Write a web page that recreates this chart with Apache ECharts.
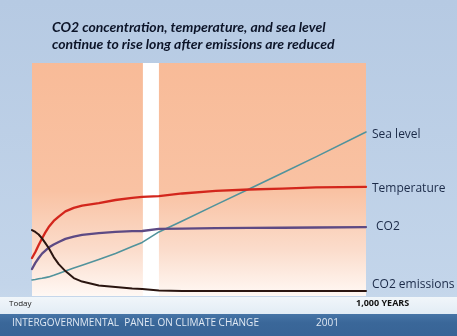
<!DOCTYPE html>
<html><head><meta charset="utf-8">
<script src="https://cdn.jsdelivr.net/npm/echarts@6/dist/echarts.min.js"></script>
<style>html,body{margin:0;padding:0;}#c{width:457px;height:336px;}</style>
</head><body><div id="c"></div>
<script>
// Data (arbitrary relative units, years after today)
const years = [0, 10, 20, 30, 40, 50, 65, 80, 100, 125, 150, 200, 250, 300, 330, 380, 450, 550, 650, 750, 850, 1000];
const seaLevel = [6.9, 7.1, 7.4, 7.6, 7.9, 8.2, 8.9, 9.7, 10.7, 12.0, 13.2, 15.7, 18.2, 21.2, 23.0, 27.5, 32.2, 39.1, 45.9, 52.8, 59.7, 70.4];
const temperature = [16.3, 18.9, 21.9, 24.7, 27.3, 29.6, 32.2, 34.1, 36.3, 37.8, 38.8, 39.9, 41.2, 42.1, 42.5, 42.9, 44.0, 45.1, 45.7, 46.1, 46.6, 46.8];
const co2 = [11.6, 14.2, 16.3, 18.2, 19.5, 20.8, 22.1, 23.2, 24.5, 25.5, 26.2, 27.0, 27.5, 27.8, 27.9, 28.8, 28.9, 29.1, 29.2, 29.3, 29.4, 29.6];
const emissions = [28.3, 27.5, 26.4, 24.7, 22.7, 20.6, 16.7, 13.7, 10.7, 7.7, 6.2, 4.5, 3.9, 3.2, 3.0, 2.4, 2.1, 2.1, 2.1, 2.1, 2.1, 2.1];
const seriesNames = ['Sea level', 'Temperature', 'CO2', 'CO2 emissions'];
const breakYears = [332, 380];
const titleLines = ['CO2 concentration, temperature, and sea level', 'continue to rise long after emissions are reduced'];
const axisStartLabel = 'Today';
const axisEndLabel = '1,000 YEARS';
const footerText = 'INTERGOVERNMENTAL  PANEL ON CLIMATE CHANGE';
const footerYear = '2001';

const pairs = arr => years.map((y, i) => [y, arr[i]]);
const chart = echarts.init(document.getElementById('c'));
const labelColor = '#1b2a48';
function lineSeries(name, data, color, width, offset) {
  return {
    name, type: 'line', data: pairs(data), smooth: false, symbol: 'none', z: 3,
    lineStyle: { color, width, join: 'round', cap: 'round' },
    endLabel: { show: true, formatter: name, color: labelColor, fontSize: 12,
      fontFamily: 'Open Sans', distance: offset[0], offset: [0, offset[1]] }
  };
}
chart.setOption({
  animation: false,
  backgroundColor: { type: 'linear', x: 0, y: 0, x2: 0, y2: 1, colorStops: [
    { offset: 0, color: '#b6cae3' }, { offset: 0.85, color: '#c3d5ea' }, { offset: 1, color: '#cfdeee' }] },
  title: {
    text: titleLines.join('\n'), left: 47, top: 14,
    textStyle: { fontSize: 14, fontWeight: 'bold', fontStyle: 'italic', color: '#0c1428',
      fontFamily: 'Lato', lineHeight: 17 }
  },
  graphic: [
    { type: 'rect', z: -10, shape: { x: 0, y: 297, width: 457, height: 17 },
      style: { fill: { type: 'linear', x: 0, y: 0, x2: 0, y2: 1, colorStops: [
        { offset: 0, color: '#f1f6fa' }, { offset: 1, color: '#e2ecf5' }] } } },
    { type: 'rect', z: -10, shape: { x: 0, y: 314, width: 457, height: 22 },
      style: { fill: { type: 'linear', x: 0, y: 0, x2: 0, y2: 1, colorStops: [
        { offset: 0, color: '#4674a6' }, { offset: 0.4, color: '#3a6799' }, { offset: 1, color: '#386496' }] } } },
    { type: 'text', left: 9, top: 300, style: { text: axisStartLabel, fontSize: 8, fill: '#1a1a1a', fontFamily: 'Open Sans' } },
    { type: 'text', left: 356, top: 299, style: { text: axisEndLabel, fontSize: 9, fontWeight: 'bold', fill: '#111', fontFamily: 'Open Sans' } },
    { type: 'text', left: 12, top: 318, style: { text: footerText, fontSize: 10, fill: '#dfe8f3', fontFamily: 'Open Sans' } },
    { type: 'text', left: 316, top: 318, style: { text: footerYear, fontSize: 10, fill: '#dfe8f3', fontFamily: 'Open Sans' } }
  ],
  grid: { left: 32, right: 91, top: 63, bottom: 40, show: true, borderWidth: 0,
    backgroundColor: { type: 'linear', x: 0, y: 0, x2: 0, y2: 1, colorStops: [
      { offset: 0, color: '#f8bb98' }, { offset: 0.55, color: '#f9c2a3' }, { offset: 0.8, color: '#fbdccb' }, { offset: 1, color: '#fff8f4' }] } },
  xAxis: { type: 'value', min: 0, max: 1000, show: false },
  yAxis: { type: 'value', min: 0, max: 100, show: false },
  series: [
    lineSeries(seriesNames[0], seaLevel, '#51939c', 1.6, [6, 3]),
    lineSeries(seriesNames[1], temperature, '#d3261c', 2.3, [6, 2]),
    lineSeries(seriesNames[2], co2, '#5d4a84', 2.3, [10, 0]),
    lineSeries(seriesNames[3], emissions, '#2a1510', 2, [6, -7]),
    { type: 'line', data: [], z: 5, silent: true,
      markArea: { silent: true, itemStyle: { color: '#ffffff', opacity: 1 },
        data: [[{ xAxis: breakYears[0] }, { xAxis: breakYears[1] }]] } }
  ]
});
</script></body></html>
